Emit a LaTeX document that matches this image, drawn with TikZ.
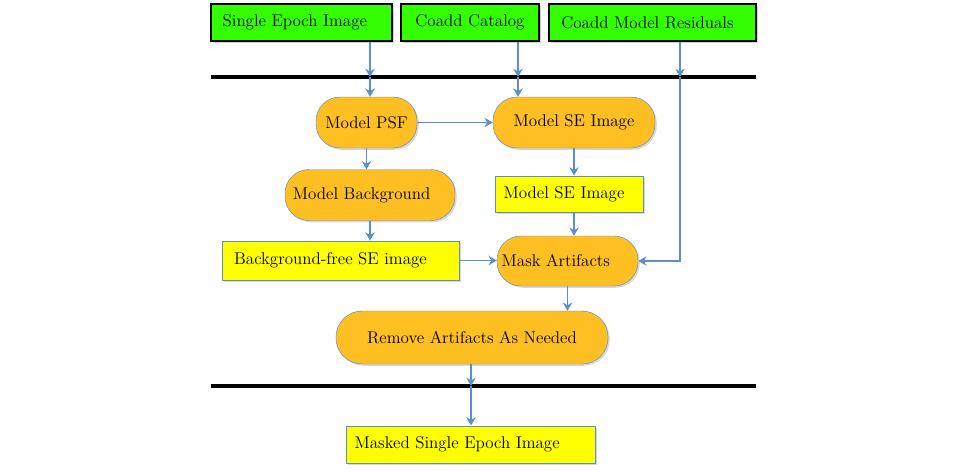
\documentclass[tikz,border=0pt]{standalone}
\usetikzlibrary{arrows.meta,shadows}

\definecolor{srcgreen}{HTML}{33FF00}
\definecolor{procorange}{HTML}{FDBF22}
\definecolor{prodyellow}{HTML}{FFFF00}
\definecolor{flowblue}{HTML}{5B8FC9}

\begin{document}
\begin{tikzpicture}[x=0.03cm, y=-0.03cm,
    >={Stealth[length=7pt, width=8pt]},
    font=\fontsize{14.5}{17}\selectfont,
    src/.style={draw=black, line width=1pt, fill=srcgreen, inner sep=0pt,
        minimum height=1.11cm, drop shadow={opacity=0.35, shadow xshift=1.5pt, shadow yshift=-1.5pt}},
    proc/.style={draw=flowblue, fill=procorange, inner sep=0pt, rounded corners=0.72cm,
        minimum height=1.53cm, drop shadow={opacity=0.3, shadow xshift=1.5pt, shadow yshift=-1.5pt}},
    prod/.style={draw=flowblue, line width=0.8pt, fill=prodyellow, inner sep=0pt,
        minimum height=1.11cm, drop shadow={opacity=0.3, shadow xshift=1.5pt, shadow yshift=-1.5pt}},
    flow/.style={->, draw=flowblue, line width=1.4pt},
    bar/.style={draw=black, line width=2.6pt}]

    \useasboundingbox[fill=white] (0,0) rectangle (960,471);

    % Inputs on top
    \node[src, minimum width=5.43cm] (sei) at (301.5,22.5) {Single Epoch Image\hspace*{0.4cm}};
    \node[src, minimum width=4.14cm] (cat) at (470,22.5) {Coadd Catalog};
    \node[src, minimum width=6.21cm] (res) at (652.5,22.5) {Coadd Model Residuals\hspace*{0.3cm}};

    % Steps in between
    \node[proc, minimum width=3.03cm] (psf) at (366.5,122.5) {Model PSF};
    \node[proc, minimum width=4.86cm] (sem) at (574,122.5) {Model SE Image};
    \node[proc, minimum width=5.1cm] (bkg) at (370,195) {Model Background\hspace*{0.5cm}};
    \node[prod, minimum width=4.44cm, minimum height=1.08cm] (seimg) at (569,194) {Model SE Image\hspace*{0.3cm}};
    \node[prod, minimum width=7.11cm, minimum height=1.17cm] (bfree) at (340.5,260.5) {Background-free SE image\hspace*{0.6cm}};
    \node[proc, minimum width=4.23cm, minimum height=1.5cm] (mask) at (567.5,261) {Mask Artifacts\hspace*{0.7cm}};
    \node[proc, minimum width=8.16cm, minimum height=1.59cm, rounded corners=0.78cm] (remove) at (472,337.5) {Remove Artifacts As Needed};

    % Output
    \node[prod, minimum width=7.47cm] (out) at (470.5,444.5) {Masked Single Epoch Image\hspace*{0.8cm}};

    % Separator bars
    \coordinate (l1) at (370,77);
    \coordinate (l2) at (518,77);
    \coordinate (l3) at (680,77);
    \coordinate (l4) at (471,386);
    \draw[bar] (211,77) -- (756,77);
    \draw[bar] (211,386) -- (756,386);

    % Connectors
    \draw[flow] (l1 |- sei.south) -- (l1);
    \draw[flow] (l2 |- cat.south) -- (l2);
    \draw[flow] (l3 |- res.south) -- (l3);
    \draw[flow] (l1) -- (l1 |- psf.north);
    \draw[flow] (l2) -- (l2 |- sem.north);
    \draw[flow, line width=1pt] (l3) |- (mask.east);
    \draw[flow, line width=1pt] (psf.east) -- (sem.west);
    \draw[flow, line width=1pt] (psf.south) -- (psf.south |- bkg.north);
    \draw[flow, line width=1pt] (sem.south) -- (sem.south |- seimg.north);
    \draw[flow, line width=1pt] (sem.south |- seimg.south) -- (sem.south |- mask.north);
    \draw[flow, line width=1pt] (bkg.south) -- (bkg.south |- bfree.north);
    \draw[flow, line width=1pt] (bfree.east) -- (bfree.east -| mask.west);
    \draw[flow, line width=1pt] (mask.south) -- (mask.south |- remove.north);
    \draw[flow] (l4 |- remove.south) -- (l4);
    \draw[flow] (l4) -- (l4 |- out.north);
\end{tikzpicture}
\end{document}
